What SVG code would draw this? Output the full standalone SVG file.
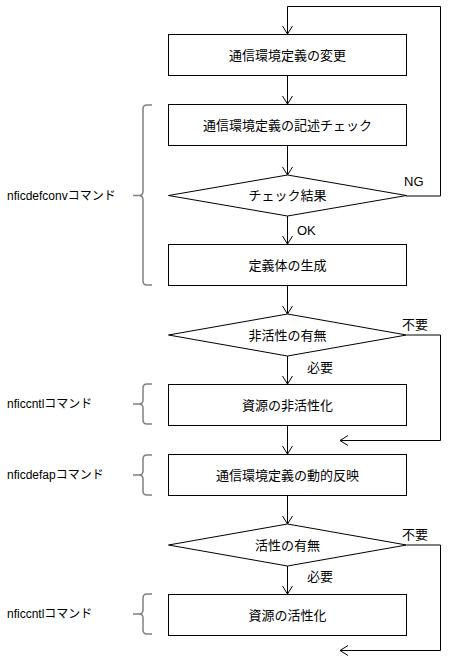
<svg xmlns="http://www.w3.org/2000/svg" width="451" height="660" viewBox="0 0 451 660">
<defs>
<style>
.box{fill:#fff;stroke:#000;stroke-width:1}
.line{fill:none;stroke:#000;stroke-width:1}
.brace{fill:none;stroke:#808080;stroke-width:1.5}
.t{font-family:"Liberation Sans","Noto Sans CJK JP",sans-serif;font-size:13px;fill:#000}
.c{text-anchor:middle}
.lbl{font-family:"Liberation Sans","Noto Sans CJK JP",sans-serif;font-size:12px;fill:#000}
</style>
<marker id="arr" markerWidth="12" markerHeight="12" refX="10" refY="6" orient="auto" markerUnits="userSpaceOnUse">
<path d="M2,1 L10,6 L2,11" fill="none" stroke="#000" stroke-width="1"/>
</marker>
</defs>
<g id="connectors">
<path class="line" d="M287.5,76 V104" marker-end="url(#arr)"/>
<path class="line" d="M287.5,146 V175" marker-end="url(#arr)"/>
<path class="line" d="M406,196 H440.5 V6.5 H287.5 V34" marker-end="url(#arr)"/>
<path class="line" d="M287.5,216 V244" marker-end="url(#arr)"/>
<path class="line" d="M287.5,286 V314" marker-end="url(#arr)"/>
<path class="line" d="M287.5,356 V384" marker-end="url(#arr)"/>
<path class="line" d="M407,335 H440.5 V440.5 H340" marker-end="url(#arr)"/>
<path class="line" d="M287.5,426 V454" marker-end="url(#arr)"/>
<path class="line" d="M287.5,496 V524" marker-end="url(#arr)"/>
<path class="line" d="M287.5,566 V594" marker-end="url(#arr)"/>
<path class="line" d="M407,545 H440.5 V650.5 H340" marker-end="url(#arr)"/>
<text class="t" x="404" y="186">NG</text>
<text class="t" x="297" y="235">OK</text>
<text class="t" x="402" y="329">不要</text>
<text class="t" x="307" y="372">必要</text>
<text class="t" x="402" y="539">不要</text>
<text class="t" x="307" y="581">必要</text>
</g>
<g id="n1"><rect class="box" x="168.5" y="34.5" width="238" height="41"/><text class="t c" x="287.5" y="60">通信環境定義の変更</text></g>
<g id="n2"><rect class="box" x="168.5" y="104.5" width="238" height="41"/><text class="t c" x="287.5" y="130">通信環境定義の記述チェック</text></g>
<g id="n3"><polygon class="box" points="287.5,175 406.5,195.5 287.5,216 168.5,195.5"/><text class="t c" x="287.5" y="200">チェック結果</text></g>
<g id="n4"><rect class="box" x="168.5" y="244.5" width="238" height="41"/><text class="t c" x="287.5" y="270">定義体の生成</text></g>
<g id="n5"><polygon class="box" points="287.5,314 406.5,335 287.5,356 168.5,335"/><text class="t c" x="287.5" y="340">非活性の有無</text></g>
<g id="n6"><rect class="box" x="168.5" y="384.5" width="238" height="41"/><text class="t c" x="287.5" y="410">資源の非活性化</text></g>
<g id="n7"><rect class="box" x="168.5" y="454.5" width="238" height="41"/><text class="t c" x="287.5" y="480">通信環境定義の動的反映</text></g>
<g id="n8"><polygon class="box" points="287.5,524 406.5,545 287.5,566 168.5,545"/><text class="t c" x="287.5" y="550">活性の有無</text></g>
<g id="n9"><rect class="box" x="168.5" y="594.5" width="238" height="41"/><text class="t c" x="287.5" y="620">資源の活性化</text></g>
<g id="b1"><path class="brace" d="M152,105 H147 Q143,105 143,109 V191 Q143,195.5 139,195.5 H133 M139,195.5 Q143,195.5 143,200 V281 Q143,285 147,285 H152"/><text class="lbl" x="7" y="200">nficdefconvコマンド</text></g>
<g id="b2"><path class="brace" d="M152,384 H147 Q143,384 143,388 V400 Q143,404 139,404 H133 M139,404 Q143,404 143,408 V420 Q143,424 147,424 H152"/><text class="lbl" x="7" y="408">nficcntlコマンド</text></g>
<g id="b3"><path class="brace" d="M152,455 H147 Q143,455 143,459 V471 Q143,475 139,475 H133 M139,475 Q143,475 143,479 V491 Q143,495 147,495 H152"/><text class="lbl" x="7" y="479">nficdefapコマンド</text></g>
<g id="b4"><path class="brace" d="M152,594 H147 Q143,594 143,598 V610 Q143,614 139,614 H133 M139,614 Q143,614 143,618 V630 Q143,634 147,634 H152"/><text class="lbl" x="7" y="618">nficcntlコマンド</text></g>
</svg>
